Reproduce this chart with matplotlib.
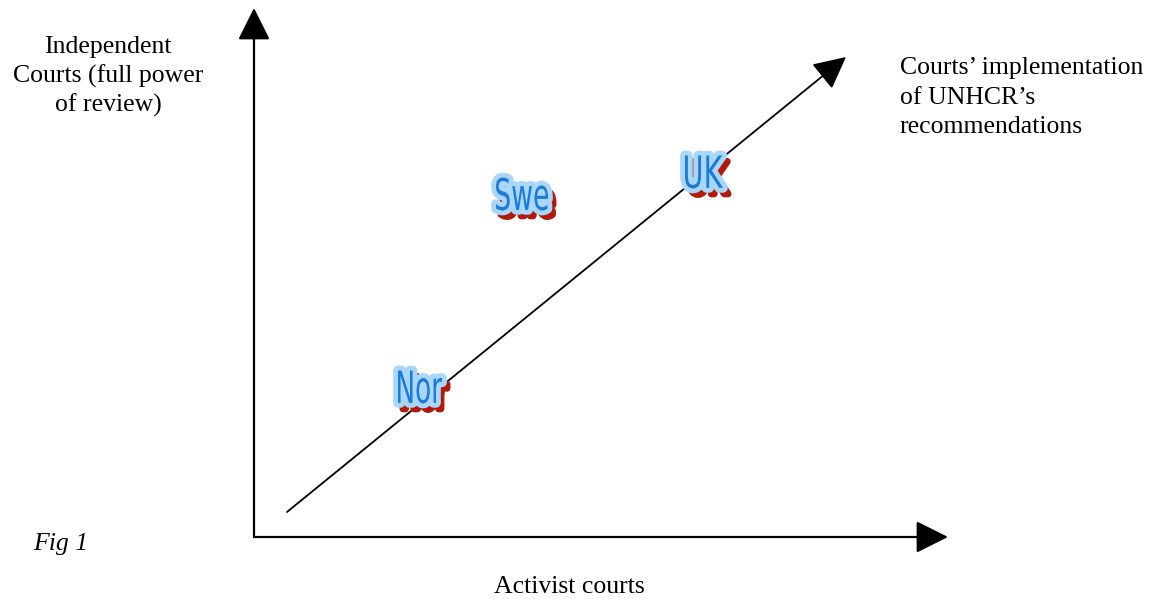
import matplotlib
matplotlib.use("Agg")
import matplotlib.pyplot as plt
from matplotlib.textpath import TextPath
from matplotlib.patches import PathPatch
from matplotlib.font_manager import FontProperties
from matplotlib.transforms import Affine2D
import matplotlib.patheffects as pe

# Data (diagram coordinates in figure pixel units, y measured from top)
countries = ["Nor", "Swe", "UK"]
country_x = [420, 522, 704]
country_y = [387, 194, 172]
trend_start = (287, 512)
trend_end = (846, 57)
origin = (254, 537)
x_axis_end = 948
y_axis_end = 8

y_label_lines = ["Independent", "Courts (full power", "of review)"]
trend_label_lines = ["Courts\u2019 implementation", "of UNHCR\u2019s", "recommendations"]
x_label = "Activist courts"
fig_label = "Fig 1"

W, H = 1156, 599
fig = plt.figure(figsize=(W / 100, H / 100), dpi=100)
ax = fig.add_axes([0, 0, 1, 1])
ax.set_xlim(0, W)
ax.set_ylim(H, 0)
ax.axis("off")

arrow_kw = dict(arrowstyle="-|>,head_length=1.0,head_width=0.5", color="black",
                lw=1.6, shrinkA=0, shrinkB=0, mutation_scale=20)
ax.annotate("", xy=(origin[0], y_axis_end), xytext=origin, arrowprops=arrow_kw)
ax.annotate("", xy=(x_axis_end, origin[1]), xytext=origin, arrowprops=arrow_kw)
ax.annotate("", xy=trend_end, xytext=trend_start,
            arrowprops=dict(arrowstyle="-|>,head_length=1.0,head_width=0.5", color="black",
                            lw=1.3, shrinkA=0, shrinkB=0, mutation_scale=20))

serif = "Liberation Serif"
fs = 18.5
lh = 29.5
for i, line in enumerate(y_label_lines):
    ax.text(108, 53 + i * lh, line, ha="center", va="baseline", fontsize=fs, family=serif)
for i, line in enumerate(trend_label_lines):
    ax.text(900, 74 + i * lh, line, ha="left", va="baseline", fontsize=fs, family=serif)
ax.text(569, 593, x_label, ha="center", va="baseline", fontsize=fs, family=serif)
ax.text(33, 550, fig_label, ha="left", va="baseline", fontsize=fs, family=serif,
        style="italic")

# WordArt-like country labels
fp = FontProperties(family="Liberation Sans Narrow", weight="normal")
target_w = [44, 52, 38]
target_h = 33
for name, cx, cy, tw in zip(countries, country_x, country_y, target_w):
    tp = TextPath((0, 0), name, size=40, prop=fp)
    bb = tp.get_extents()
    tr = (Affine2D().translate(-(bb.x0 + bb.width / 2), -(bb.y0 + bb.height / 2))
          .scale(tw / bb.width, -target_h / bb.height).translate(cx, cy))
    path = tr.transform_path(tp)
    shadow = PathPatch(Affine2D().translate(5, 6).transform_path(path),
                       facecolor="#b01a0a", edgecolor="#b01a0a", lw=5,
                       joinstyle="round", zorder=3)
    ax.add_patch(shadow)
    patch = PathPatch(path, facecolor="#1c7ad8", edgecolor="none", lw=0, zorder=4)
    patch.set_path_effects([pe.Stroke(linewidth=7, foreground="#a9d6fb",
                                      joinstyle="round"), pe.Normal()])
    ax.add_patch(patch)

fig.savefig("out.png", dpi=100)
